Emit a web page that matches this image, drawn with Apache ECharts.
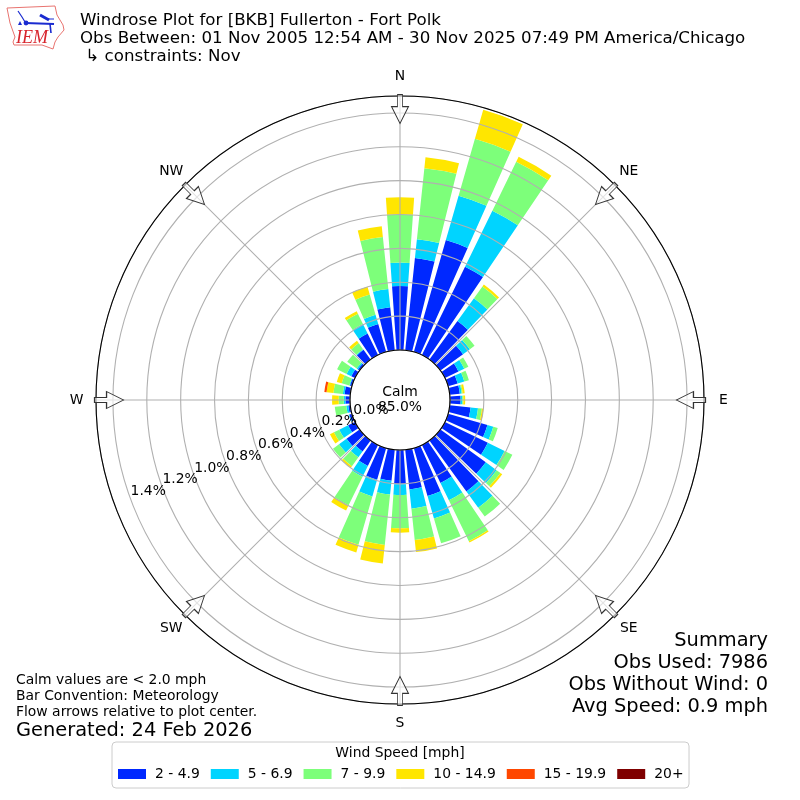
<!DOCTYPE html>
<html>
<head>
<meta charset="utf-8">
<script src="https://cdn.jsdelivr.net/npm/echarts@6/dist/echarts.min.js"></script>
<style>html,body{margin:0;padding:0;background:#fff}#c{width:800px;height:800px}</style>
</head>
<body>
<div id="c"></div>
<script>
const directions = ['0','10','20','30','40','50','60','70','80','90','100','110','120','130','140','150','160','170','180','190','200','210','220','230','240','250','260','270','280','290','300','310','320','330','340','350'];
const speedNames = ['2 - 4.9','5 - 6.9','7 - 9.9','10 - 14.9','15 - 19.9','20+'];
const speedColors = ['#0028ff','#00d4ff','#7dff7a','#ffe600','#ff4700','#7f0000'];
const speed2to5 = [.378,.548,.687,.581,.282,.165,.089,.059,.060,.063,.124,.242,.282,.331,.372,.250,.294,.236,.203,.184,.195,.138,.081,.095,.046,.016,.012,.027,.034,.012,.025,.012,.071,.141,.171,.256];
const speed5to7 = [.138,.112,.273,.368,.166,.050,.038,.041,.011,.010,.044,.036,.110,.079,.119,.113,.138,.114,.063,.082,.102,.071,.042,.055,.058,.004,.012,.010,.010,.004,.031,.009,.005,.063,.058,.108];
const speed7to10 = [.286,.421,.350,.321,.085,.034,.027,.028,.006,.006,.023,.027,.051,.028,.065,.269,.153,.186,.196,.299,.297,.188,.065,.044,.035,0,.068,.030,.056,.047,.062,.069,.044,.068,.124,.309];
const speed10to15 = [.100,.065,.178,.033,.014,0,0,0,.012,.011,.010,0,0,.013,0,.009,0,.072,.026,.111,.047,.034,.012,0,.026,0,0,.039,.041,.030,0,0,.017,.016,.048,.063];
const speed15to20 = [0,0,0,0,0,0,0,0,0,0,0,0,0,0,0,0,0,0,0,0,0,0,0,0,0,0,0,0,.013,0,0,0,0,0,0,0];
const speed20up = [0,0,0,0,0,0,0,0,0,0,0,0,0,0,0,0,0,0,0,0,0,0,0,0,0,0,0,0,0,0,0,0,0,0,0,0];
const speedSeries = [speed2to5,speed5to7,speed7to10,speed10to15,speed15to20,speed20up];
const compassNames = ['N','NE','E','SE','S','SW','W','NW'];
const compassAngles = [0,45,90,135,180,225,270,315];
const radialTicks = [0,.2,.4,.6,.8,1,1.2,1.4];
const font = 'DejaVu Sans';

function text(x,y,t,size,align){
  return {type:'text',x:x,y:y,z:50,silent:true,style:{text:t,font:size+'px "'+font+'"',fill:'#000',textAlign:align||'left',textVerticalAlign:'middle'}};
}
const red='#e8736f', blue='#1a2bd0';
function stroke(points,w){return {type:'polyline',z:50,silent:true,shape:{points:points},style:{stroke:blue,lineWidth:w,fill:null}};}
const logo=[
 {type:'polygon',z:50,silent:true,shape:{points:[[7,8],[55,6],[57,15],[63,25],[64,30],[58,37],[55,42],[53,49],[42,45],[14,45],[13,42],[15,37],[10,23]]},style:{fill:'#fff',stroke:red,lineWidth:1}},
 stroke([[25,23],[54,24]],2.2),
 stroke([[18,11],[22,17],[25,22]],1.2),
 stroke([[40,15],[49,20]],3),
 stroke([[50,24],[51,33]],1.6),
 stroke([[46,19],[54,19]],1),
 {type:'circle',z:50,silent:true,shape:{cx:26,cy:23,r:2.4},style:{fill:blue}},
 {type:'polygon',z:50,silent:true,shape:{points:[[18,25],[22,25],[20,21]]},style:{fill:blue}},
 {type:'text',x:16,y:38.5,z:51,silent:true,style:{text:'IEM',font:'italic 18px "Liberation Serif"',fill:'#d8242c',textVerticalAlign:'middle'}}
];
const texts=[
 text(80,21,'Windrose Plot for [BKB] Fullerton - Fort Polk',16.67),
 text(80,39,'Obs Between: 01 Nov 2005 12:54 AM - 30 Nov 2025 07:49 PM America/Chicago',16.67),
 text(80,56.5,' ↳ constraints: Nov',16.67),
 text(400,392.5,'Calm',13.9,'center'),
 text(400,407.5,'85.0%',13.9,'center'),
 text(768,641,'Summary',19.4,'right'),
 text(768,663,'Obs Used: 7986',19.4,'right'),
 text(768,685,'Obs Without Wind: 0',19.4,'right'),
 text(768,707,'Avg Speed: 0.9 mph',19.4,'right'),
 text(16,680,'Calm values are < 2.0 mph',13.9),
 text(16,696,'Bar Convention: Meteorology',13.9),
 text(16,712,'Flow arrows relative to plot center.',13.9),
 text(16,730.5,'Generated: 24 Feb 2026',19.4),
 text(400,753.5,'Wind Speed [mph]',13.9,'center')
];

const arrowPath='path://M6 0 L11 0 L11 12 L17 12 L8.5 29 L0 12 L6 12 Z';

const option={
 animation:false,
 textStyle:{fontFamily:font},
 polar:[
  {center:[400,400],radius:[50,304]},
  {center:[400,400],radius:[50,304]}
 ],
 angleAxis:[
  {polarIndex:0,type:'category',data:directions,startAngle:95,boundaryGap:true,
   axisLine:{show:false},axisTick:{show:false},axisLabel:{show:false},splitLine:{show:false},z:0},
  {polarIndex:1,type:'value',min:0,max:360,interval:45,startAngle:90,z:6,
   axisLine:{show:true,lineStyle:{color:'#000',width:1.1}},axisTick:{show:false},
   splitLine:{show:true,lineStyle:{color:'#b0b0b0',width:1.1}},
   axisLabel:{show:false}}
 ],
 radiusAxis:[
  {polarIndex:0,type:'value',min:0,max:1.5,axisLine:{show:false},axisTick:{show:false},axisLabel:{show:false},splitLine:{show:false},z:0},
  {polarIndex:1,type:'value',min:0,max:1.5,interval:.2,z:5,axisLine:{show:false},axisTick:{show:false},axisLabel:{show:false},
   splitLine:{show:true,lineStyle:{color:'#b0b0b0',width:1.1}}}
 ],
 legend:{
  left:112,top:742,orient:'horizontal',icon:'rect',itemWidth:28,itemHeight:10,itemGap:11,
  padding:[25,5.5,7,6],borderColor:'#ccc',borderWidth:1,borderRadius:4,backgroundColor:'#fff',
  textStyle:{fontSize:13.9,color:'#000',fontFamily:font,padding:[0,0,0,4]},
  selectedMode:false,data:speedNames
 },
 graphic:logo.concat(texts),
 series:speedSeries.map(function(vals,i){
   return {type:'bar',name:speedNames[i],coordinateSystem:'polar',polarIndex:0,stack:'wind',barWidth:'80%',z:2,silent:true,
     itemStyle:{color:speedColors[i]},data:vals.map(function(v){return v===0?null:v;})};
 }).concat([
  {type:'scatter',coordinateSystem:'polar',polarIndex:1,z:10,silent:true,symbol:arrowPath,symbolSize:[17,29],
   itemStyle:{color:'rgba(255,255,255,0.65)',borderColor:'#333',borderWidth:1,opacity:1},
   data:compassAngles.map(function(a){return {value:[1.423,a],symbolRotate:-a};})},
  {type:'scatter',coordinateSystem:'polar',polarIndex:1,z:12,silent:true,symbolSize:1,clip:false,
   itemStyle:{color:'rgba(255,255,255,0)',opacity:1},
   label:{show:true,position:'inside',color:'#000',opacity:1,fontSize:13.9,fontFamily:font,textBorderWidth:0},
   data:compassAngles.map(function(a,i){
     const t=a*Math.PI/180;
     return {value:[1.5,a],label:{formatter:compassNames[i],offset:[19.5*Math.sin(t),-19.5*Math.cos(t)]}};
   })},
  {type:'scatter',coordinateSystem:'polar',polarIndex:1,z:12,silent:true,symbolSize:1,
   itemStyle:{color:'rgba(255,255,255,0)',opacity:1},
   label:{show:true,position:'inside',offset:[18,-7],color:'#000',opacity:1,fontSize:13.9,fontFamily:font,textBorderWidth:0,
     formatter:function(p){return p.value[0].toFixed(1)+'%';}},
   data:radialTicks.map(function(r){return [r,250];})}
 ])
};
const chart=echarts.init(document.getElementById('c'),null,{renderer:'canvas'});
chart.setOption(option);
</script>
</body>
</html>
